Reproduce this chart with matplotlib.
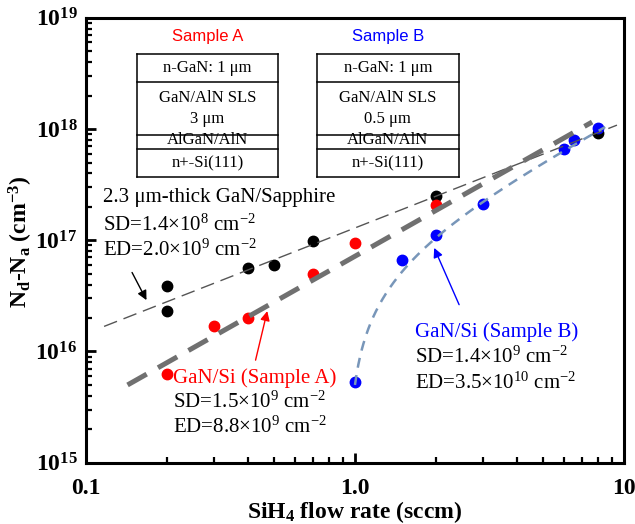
import numpy as np
import matplotlib
matplotlib.use("Agg")
import matplotlib.pyplot as plt
from matplotlib.ticker import LogLocator, NullFormatter

plt.rcParams['font.family'] = ['Liberation Serif', 'DejaVu Serif']
plt.rcParams['mathtext.fontset'] = 'custom'
plt.rcParams['mathtext.rm'] = 'Liberation Serif'
plt.rcParams['mathtext.bf'] = 'Liberation Serif:bold'
plt.rcParams['mathtext.it'] = 'Liberation Serif:italic'
plt.rcParams['mathtext.default'] = 'regular'

# -----------------------
# data
# -----------------------
x_sapphire = [0.2, 0.2, 0.4, 0.5, 0.7, 2.0, 8.0]
y_sapphire = [3.9e16, 2.3e16, 5.6e16, 6.0e16, 9.8e16, 2.5e17, 9.2e17]

x_sample_a = [0.2, 0.3, 0.4, 0.7, 1.0, 2.0]
y_sample_a = [6.3e15, 1.7e16, 2.0e16, 5.0e16, 9.4e16, 2.07e17]

x_sample_b = [1.0, 1.5, 2.0, 3.0, 6.0, 6.5, 8.0]
y_sample_b = [5.3e15, 6.7e16, 1.11e17, 2.1e17, 6.6e17, 7.9e17, 1.02e18]

# fitted curves: y = A * x**n - B
fit_sapphire = dict(A=1.29e17, n=0.95, B=0.0, x0=0.117, x1=9.4)
fit_sample_a = dict(A=7.18e16, n=1.37, B=0.0, x0=0.143, x1=7.6)
fit_sample_b = dict(A=6.85e16, n=1.30, B=6.35e16, x0=1.0, x1=8.5)

x_ticks = [0.1, 1.0, 10]
x_ticklabels = ['0.1', '1.0', '10']
y_ticks = [1e15, 1e16, 1e17, 1e18, 1e19]
y_ticklabels = ['$10^{15}$', '$10^{16}$', '$10^{17}$', '$10^{18}$', '$10^{19}$']

# layer stacks of the two samples
layers_a = ['n-GaN: 1 \u03bcm', 'GaN/AlN SLS\n3 \u03bcm', 'AlGaN/AlN', 'n+-Si(111)']
layers_b = ['n-GaN: 1 \u03bcm', 'GaN/AlN SLS\n0.5 \u03bcm', 'AlGaN/AlN', 'n+-Si(111)']
layer_edges = [0.919, 0.856, 0.736, 0.705, 0.642]


def curve(p):
    xs = np.geomspace(p['x0'], p['x1'], 300)
    return xs, p['A'] * xs ** p['n'] - p['B']


fig = plt.figure(figsize=(6.35, 5.24), dpi=100)
ax = fig.add_axes([0.135, 0.117, 0.848, 0.849])

ms = 7.5
ax.plot(x_sapphire, y_sapphire, 'o', color='black', ms=ms, zorder=3)
ax.plot(x_sample_a, y_sample_a, 'o', color='#ff0000', ms=ms, zorder=3)
ax.plot(x_sample_b, y_sample_b, 'o', color='#0000ff', ms=ms, zorder=3)

xs, ys = curve(fit_sapphire)
ax.plot(xs, ys, color='#555555', lw=1.0, dashes=(10, 5), zorder=4)
xs, ys = curve(fit_sample_a)
ax.plot(xs, ys, color='#707070', lw=3.6, dashes=(4.4, 2.6), zorder=4)
xs, ys = curve(fit_sample_b)
ax.plot(xs, ys, color='#7896b9', lw=1.8, dashes=(4, 3), zorder=4)

ax.set_xscale('log')
ax.set_yscale('log')
ax.set_xlim(0.1, 10)
ax.set_ylim(1e15, 1e19)
ax.set_xticks(x_ticks)
ax.set_xticklabels(x_ticklabels)
ax.set_yticks(y_ticks)
ax.set_yticklabels(y_ticklabels)
ax.xaxis.set_minor_locator(LogLocator(base=10, subs=np.arange(2, 10)))
ax.yaxis.set_minor_locator(LogLocator(base=10, subs=np.arange(2, 10)))
ax.xaxis.set_minor_formatter(NullFormatter())
ax.yaxis.set_minor_formatter(NullFormatter())
ax.tick_params(which='both', direction='in', top=False, right=False)
ax.tick_params(which='major', length=7, width=2, labelsize=17)
ax.tick_params(axis='x', which='major', pad=11)
ax.tick_params(axis='y', which='major', pad=6)
ax.tick_params(which='minor', length=4, width=1.6)
for lab in ax.get_xticklabels() + ax.get_yticklabels():
    lab.set_fontweight('bold')
for s in ax.spines.values():
    s.set_linewidth(2.2)

ax.set_xlabel('SiH$_4$ flow rate (sccm)', fontsize=17, fontweight='bold')
ax.xaxis.set_label_coords(0.5, -0.082)
ax.set_ylabel('N$_d$-N$_a$ (cm$^{-3}$)', fontsize=17, fontweight='bold')
ax.yaxis.set_label_coords(-0.094, 0.497)

# annotations
tf = ax.transAxes
fs = 15
ax.text(0.032, 0.595, '2.3 \u03bcm-thick GaN/Sapphire', transform=tf, fontsize=fs, va='center')
ax.text(0.032, 0.534, 'SD=1.4\u00d710$^{8}$ cm$^{-2}$', transform=tf, fontsize=fs, va='center')
ax.text(0.032, 0.477, 'ED=2.0\u00d710$^{9}$ cm$^{-2}$', transform=tf, fontsize=fs, va='center')

ax.text(0.162, 0.191, 'GaN/Si (Sample A)', transform=tf, fontsize=fs, va='center', color='#ff0000')
ax.text(0.162, 0.135, 'SD=1.5\u00d710$^{9}$ cm$^{-2}$', transform=tf, fontsize=fs, va='center')
ax.text(0.162, 0.079, 'ED=8.8\u00d710$^{9}$ cm$^{-2}$', transform=tf, fontsize=fs, va='center')

ax.text(0.611, 0.293, 'GaN/Si (Sample B)', transform=tf, fontsize=fs, va='center', color='#0000ff')
ax.text(0.611, 0.238, 'SD=1.4\u00d710$^{9}$ cm$^{-2}$', transform=tf, fontsize=fs, va='center')
ax.text(0.611, 0.178, 'ED=3.5\u00d710$^{10}$ cm$^{-2}$', transform=tf, fontsize=fs, va='center')

ax.annotate('', xy=(0.17, 2.75e16), xytext=(0.147, 5.4e16),
            arrowprops=dict(arrowstyle='-|>', color='black', lw=1.0, mutation_scale=14))
ax.annotate('', xy=(0.475, 2.44e16), xytext=(0.425, 7.9e15),
            arrowprops=dict(arrowstyle='-|>', color='#ff0000', lw=1.0, mutation_scale=14))
ax.annotate('', xy=(1.95, 9.0e16), xytext=(2.46, 2.5e16),
            arrowprops=dict(arrowstyle='-|>', color='#0000ff', lw=1.0, mutation_scale=14))

# sample layer schematics
for x0, x1, title, col, layers in [(0.0948, 0.357, 'Sample A', '#ff0000', layers_a),
                                    (0.429, 0.693, 'Sample B', '#0000ff', layers_b)]:
    xc = (x0 + x1) / 2
    ax.text(xc, 0.957, title, transform=tf, fontsize=12, color=col, ha='center', va='center',
            family=['Liberation Sans', 'DejaVu Sans'])
    for yy in layer_edges:
        ax.plot([x0, x1], [yy, yy], transform=tf, color='black', lw=1.1, zorder=5)
    for xx in (x0, x1):
        ax.plot([xx, xx], [layer_edges[0], layer_edges[-1]], transform=tf, color='black', lw=1.1, zorder=5)
    for i, name in enumerate(layers):
        ym = (layer_edges[i] + layer_edges[i + 1]) / 2
        if name.startswith('AlGaN'):
            ym = ym + 0.005
        ax.text(xc, ym, name, transform=tf, fontsize=12, ha='center', va='center',
                linespacing=1.4, zorder=5)

fig.savefig('out.png', dpi=100)
